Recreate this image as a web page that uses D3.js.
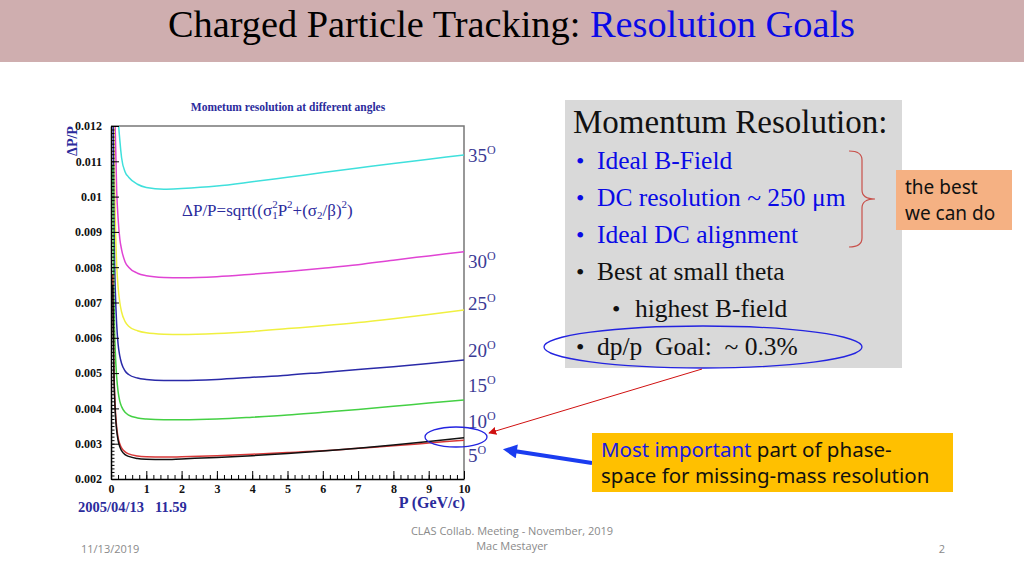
<!DOCTYPE html>
<html><head><meta charset="utf-8">
<script src="https://cdn.jsdelivr.net/npm/d3@7"></script>
<style>body{margin:0;background:#fff}svg{display:block}</style>
</head><body>
<svg id="c" width="1024" height="576"></svg>
<script>
// ---------- DATA ----------
const P = [0.05,0.08,0.1,0.12,0.16,0.2,0.25,0.3,0.4,0.5,0.75,1,1.5,2,3,4,5,6,7,8,9,10];
const res35 = [0.030,0.0205,0.0175,0.0157,0.0135,0.0123,0.0116,0.0111,0.0107,0.01055,0.01035,0.01026,0.01021,0.01023,0.0103,0.01042,0.01055,0.01068,0.01081,0.01094,0.01106,0.01118];
const res30 = [0.0229,0.0155,0.0132,0.0119,0.0102,0.0094,0.0088,0.0085,0.00815,0.0080,0.00783,0.00776,0.00771,0.0077,0.00773,0.0078,0.00788,0.00797,0.00807,0.0082,0.00832,0.00844];
const res25 = [0.0181,0.0123,0.0105,0.0094,0.0081,0.00745,0.0070,0.00673,0.00646,0.00633,0.0062,0.00614,0.0061,0.00609,0.00612,0.00618,0.00626,0.00634,0.00643,0.00654,0.00666,0.00679];
const res20 = [0.0142,0.0096,0.0082,0.0074,0.0064,0.00583,0.00548,0.00527,0.00506,0.00496,0.00486,0.00482,0.00479,0.00479,0.00482,0.00488,0.00494,0.00502,0.0051,0.00518,0.00527,0.00537];
const res10 = [0.0109,0.0074,0.0063,0.00565,0.0049,0.00448,0.0042,0.00405,0.00389,0.00381,0.00373,0.0037,0.00368,0.00368,0.0037,0.00375,0.00381,0.00389,0.00397,0.00406,0.00415,0.00424];
const res5a = [0.0078,0.0053,0.0045,0.00402,0.00347,0.00318,0.00299,0.00288,0.00277,0.00271,0.00265,0.00263,0.00262,0.00263,0.00266,0.0027,0.00275,0.0028,0.00287,0.00294,0.00302,0.0031];
const res5b = [0.0075,0.0051,0.00437,0.0039,0.00338,0.0031,0.00291,0.0028,0.00269,0.00264,0.00258,0.00256,0.00255,0.00257,0.00261,0.00266,0.00272,0.00279,0.00287,0.00296,0.00306,0.00317];
const seriesNames = ["35","30","25","20","10","5a","5b"];
const seriesColors = ["#3fe0dc","#e044d4","#f0f040","#2a2aa8","#44d044","#d83838","#111111"];
const seriesValues = [res35,res30,res25,res20,res10,res5a,res5b];
const angleLabels = ["35","30","25","20","15","10","5"];
const angleLabelY = [0.01098,0.00798,0.00679,0.00546,0.00446,0.00344,0.00248];
const yTicks = [0.002,0.003,0.004,0.005,0.006,0.007,0.008,0.009,0.01,0.011,0.012];
const xTicks = [0,1,2,3,4,5,6,7,8,9,10];

const svg = d3.select("#c");
const serif = "'Liberation Serif','Times New Roman',serif";
const comic = "'Noto Sans','DejaVu Sans',sans-serif";
const navy = "#2b2b9c";

// ---------- header ----------
svg.append("rect").attr("x",0).attr("y",0).attr("width",1024).attr("height",62).attr("fill","#cfaeaf");
const ttl = svg.append("text").attr("x",168).attr("y",37).attr("font-family",serif).attr("font-size",38)
  .attr("textLength",687).attr("lengthAdjust","spacingAndGlyphs");
ttl.append("tspan").attr("fill","#000").text("Charged Particle Tracking: ");
ttl.append("tspan").attr("fill","#0a0ae6").text("Resolution Goals");

// ---------- chart ----------
const x = d3.scaleLinear().domain([0,10]).range([111,464]);
const y = d3.scaleLinear().domain([0.002,0.012]).range([479,126]);

svg.append("defs").append("clipPath").attr("id","plotclip")
  .append("rect").attr("x",111).attr("y",126).attr("width",353).attr("height",353);

// frame top/right
svg.append("path").attr("d",`M${x(0)},${y(0.012)}H${x(10)}V${y(0.002)}`)
  .attr("fill","none").attr("stroke","#777").attr("stroke-width",1.5);

const line = d3.line().x((d,i)=>x(P[i])).y(d=>y(d)).curve(d3.curveMonotoneX);
const gl = svg.append("g").attr("clip-path","url(#plotclip)");
seriesValues.forEach((vals,k)=>{
  gl.append("path").datum(vals).attr("d",line).attr("fill","none")
    .attr("stroke",seriesColors[k]).attr("stroke-width",1.5);
});

// minor ticks
const yMinor = d3.range(20,121).map(i=>i/10000);
svg.append("g").attr("transform",`translate(${x(0)},0)`)
  .call(d3.axisLeft(y).tickValues(yMinor).tickSizeInner(-3.5).tickSizeOuter(0).tickFormat(""))
  .call(g=>g.select(".domain").remove());
const xMinor = d3.range(0,51).map(i=>i/5);
svg.append("g").attr("transform",`translate(0,${y(0.002)})`)
  .call(d3.axisBottom(x).tickValues(xMinor).tickSizeInner(-4).tickSizeOuter(0).tickFormat(""))
  .call(g=>g.select(".domain").remove());

// major axes
const yAxis = svg.append("g").attr("transform",`translate(${x(0)},0)`)
  .call(d3.axisLeft(y).tickValues(yTicks).tickSizeInner(-8).tickSizeOuter(0).tickPadding(9).tickFormat(d=>String(+d.toFixed(3))))
  .attr("font-family",serif).attr("font-weight","bold").attr("font-size",12);
yAxis.select(".domain").attr("stroke-width",1.5);
yAxis.selectAll("text").attr("fill","#111");
const xAxis = svg.append("g").attr("transform",`translate(0,${y(0.002)})`)
  .call(d3.axisBottom(x).tickValues(xTicks).tickSizeInner(-8).tickSizeOuter(0).tickPadding(5).tickFormat(d3.format("d")))
  .attr("font-family",serif).attr("font-weight","bold").attr("font-size",12);
xAxis.select(".domain").attr("stroke-width",1.5);
xAxis.selectAll("text").attr("fill","#111");

// chart texts
svg.append("text").attr("x",288).attr("y",111).attr("text-anchor","middle").attr("font-family",serif)
  .attr("font-weight","bold").attr("font-size",11.5).attr("fill",navy).text("Mometum resolution at different angles");
svg.append("text").attr("transform","translate(77,141) rotate(-90)").attr("text-anchor","middle")
  .attr("font-family",serif).attr("font-weight","bold").attr("font-size",14).attr("fill",navy).text("ΔP/P");
svg.append("text").attr("x",465).attr("y",508).attr("text-anchor","end").attr("font-family",serif)
  .attr("font-weight","bold").attr("font-size",16).attr("fill",navy).text("P (GeV/c)");
svg.append("text").attr("x",78).attr("y",512).attr("font-family",serif).attr("font-weight","bold")
  .attr("font-size",14.5).attr("fill",navy).attr("xml:space","preserve").text("2005/04/13   11.59");

// formula
const f = svg.append("text").attr("x",182).attr("y",216).attr("font-family",serif).attr("font-size",17).attr("fill",navy);
f.append("tspan").text("ΔP/P=sqrt((σ");
f.append("tspan").attr("font-size",11).attr("dy",-8).text("2");
f.append("tspan").attr("font-size",11).attr("dx",-5.5).attr("dy",11).text("1");
f.append("tspan").attr("dy",-3).text("P");
f.append("tspan").attr("font-size",11).attr("dy",-8).text("2");
f.append("tspan").attr("dy",8).text("+(σ");
f.append("tspan").attr("font-size",11).attr("dy",3).text("2");
f.append("tspan").attr("dy",-3).text("/β)");
f.append("tspan").attr("font-size",11).attr("dy",-8).text("2");
f.append("tspan").attr("dy",8).text(")");

// angle labels
angleLabels.forEach((a,i)=>{
  const t = svg.append("text").attr("x",468).attr("y",y(angleLabelY[i])).attr("font-family",serif)
    .attr("font-size",19).attr("fill","#3b3b95");
  t.append("tspan").text(a);
  t.append("tspan").attr("font-size",12).attr("dy",-8).text("O");
});

// ---------- right panel ----------
svg.append("rect").attr("x",565).attr("y",100).attr("width",337).attr("height",268).attr("fill","#d9d9d9");
svg.append("text").attr("x",573).attr("y",133).attr("font-family",serif).attr("font-size",33).attr("fill","#111").text("Momentum Resolution:");
const bullets = [
  {t:"Ideal B-Field", y:169, c:"#0a0ae6", bx:576, tx:597},
  {t:"DC resolution ~ 250 μm", y:206, c:"#0a0ae6", bx:576, tx:597},
  {t:"Ideal DC alignment", y:243, c:"#0a0ae6", bx:576, tx:597},
  {t:"Best at small theta", y:280, c:"#111", bx:576, tx:597},
  {t:"highest B-field", y:317, c:"#111", bx:612, tx:635},
  {t:"dp/p  Goal:  ~ 0.3%", y:355, c:"#111", bx:576, tx:597}
];
bullets.forEach(b=>{
  svg.append("text").attr("x",b.bx).attr("y",b.y).attr("font-family",serif).attr("font-size",24).attr("fill",b.c).text("•");
  svg.append("text").attr("x",b.tx).attr("y",b.y).attr("font-family",serif).attr("font-size",25.5).attr("fill",b.c)
    .attr("xml:space","preserve").text(b.t);
});

// bracket
svg.append("path").attr("d","M849,151 Q862,151 862,160 L862,190 Q862,199 875,199 Q862,199 862,208 L862,238 Q862,247 849,247")
  .attr("fill","none").attr("stroke","#c8504a").attr("stroke-width",1.2);

// orange box
svg.append("rect").attr("x",896).attr("y",170).attr("width",116).attr("height",60).attr("fill","#f5b183");
svg.append("text").attr("x",905).attr("y",194).attr("font-family",comic).attr("font-size",19).attr("fill","#111").text("the best");
svg.append("text").attr("x",905).attr("y",220).attr("font-family",comic).attr("font-size",19).attr("fill","#111").text("we can do");

// ellipses
svg.append("ellipse").attr("cx",703).attr("cy",347).attr("rx",159).attr("ry",21)
  .attr("fill","none").attr("stroke","#2323e0").attr("stroke-width",1.3);
svg.append("ellipse").attr("cx",456).attr("cy",437).attr("rx",31).attr("ry",10)
  .attr("fill","none").attr("stroke","#2323e0").attr("stroke-width",1.3);

// arrows
const defs = svg.select("defs");
defs.append("marker").attr("id","redhead").attr("viewBox","0 0 10 10").attr("refX",9).attr("refY",5)
  .attr("markerWidth",8).attr("markerHeight",8).attr("markerUnits","userSpaceOnUse").attr("orient","auto")
  .append("path").attr("d","M0,0L10,5L0,10z").attr("fill","#d01010");
svg.append("line").attr("x1",702).attr("y1",369).attr("x2",489).attr("y2",433)
  .attr("stroke","#d01010").attr("stroke-width",1).attr("marker-end","url(#redhead)");
defs.append("marker").attr("id","bluehead").attr("viewBox","0 0 10 10").attr("refX",2).attr("refY",5)
  .attr("markerWidth",16).attr("markerHeight",14).attr("markerUnits","userSpaceOnUse").attr("orient","auto")
  .append("path").attr("d","M0,0L10,5L0,10z").attr("fill","#1a3cf0");
svg.append("line").attr("x1",592).attr("y1",463).attr("x2",514).attr("y2",451)
  .attr("stroke","#1a3cf0").attr("stroke-width",4).attr("marker-end","url(#bluehead)");

// yellow box
svg.append("rect").attr("x",592).attr("y",433).attr("width",361).attr("height",59).attr("fill","#ffc000");
const y1 = svg.append("text").attr("x",601).attr("y",457).attr("font-family",comic).attr("font-size",20.5);
y1.append("tspan").attr("fill","#1a1ae0").text("Most important");
y1.append("tspan").attr("fill","#111").text(" part of phase-");
svg.append("text").attr("x",601).attr("y",483).attr("font-family",comic).attr("font-size",20.5).attr("fill","#111").text("space for missing-mass resolution");

// footer
const foot = "'Liberation Sans Narrow','Open Sans',sans-serif";
svg.append("text").attr("x",81).attr("y",553).attr("font-family",foot).attr("font-size",11).attr("fill","#8a8a8a").text("11/13/2019");
svg.append("text").attr("x",512).attr("y",535).attr("text-anchor","middle").attr("font-family",foot).attr("font-size",11).attr("fill","#8a8a8a").text("CLAS Collab. Meeting - November, 2019");
svg.append("text").attr("x",512).attr("y",550).attr("text-anchor","middle").attr("font-family",foot).attr("font-size",11).attr("fill","#8a8a8a").text("Mac Mestayer");
svg.append("text").attr("x",942).attr("y",553).attr("text-anchor","middle").attr("font-family",foot).attr("font-size",11).attr("fill","#8a8a8a").text("2");
</script>
</body></html>
